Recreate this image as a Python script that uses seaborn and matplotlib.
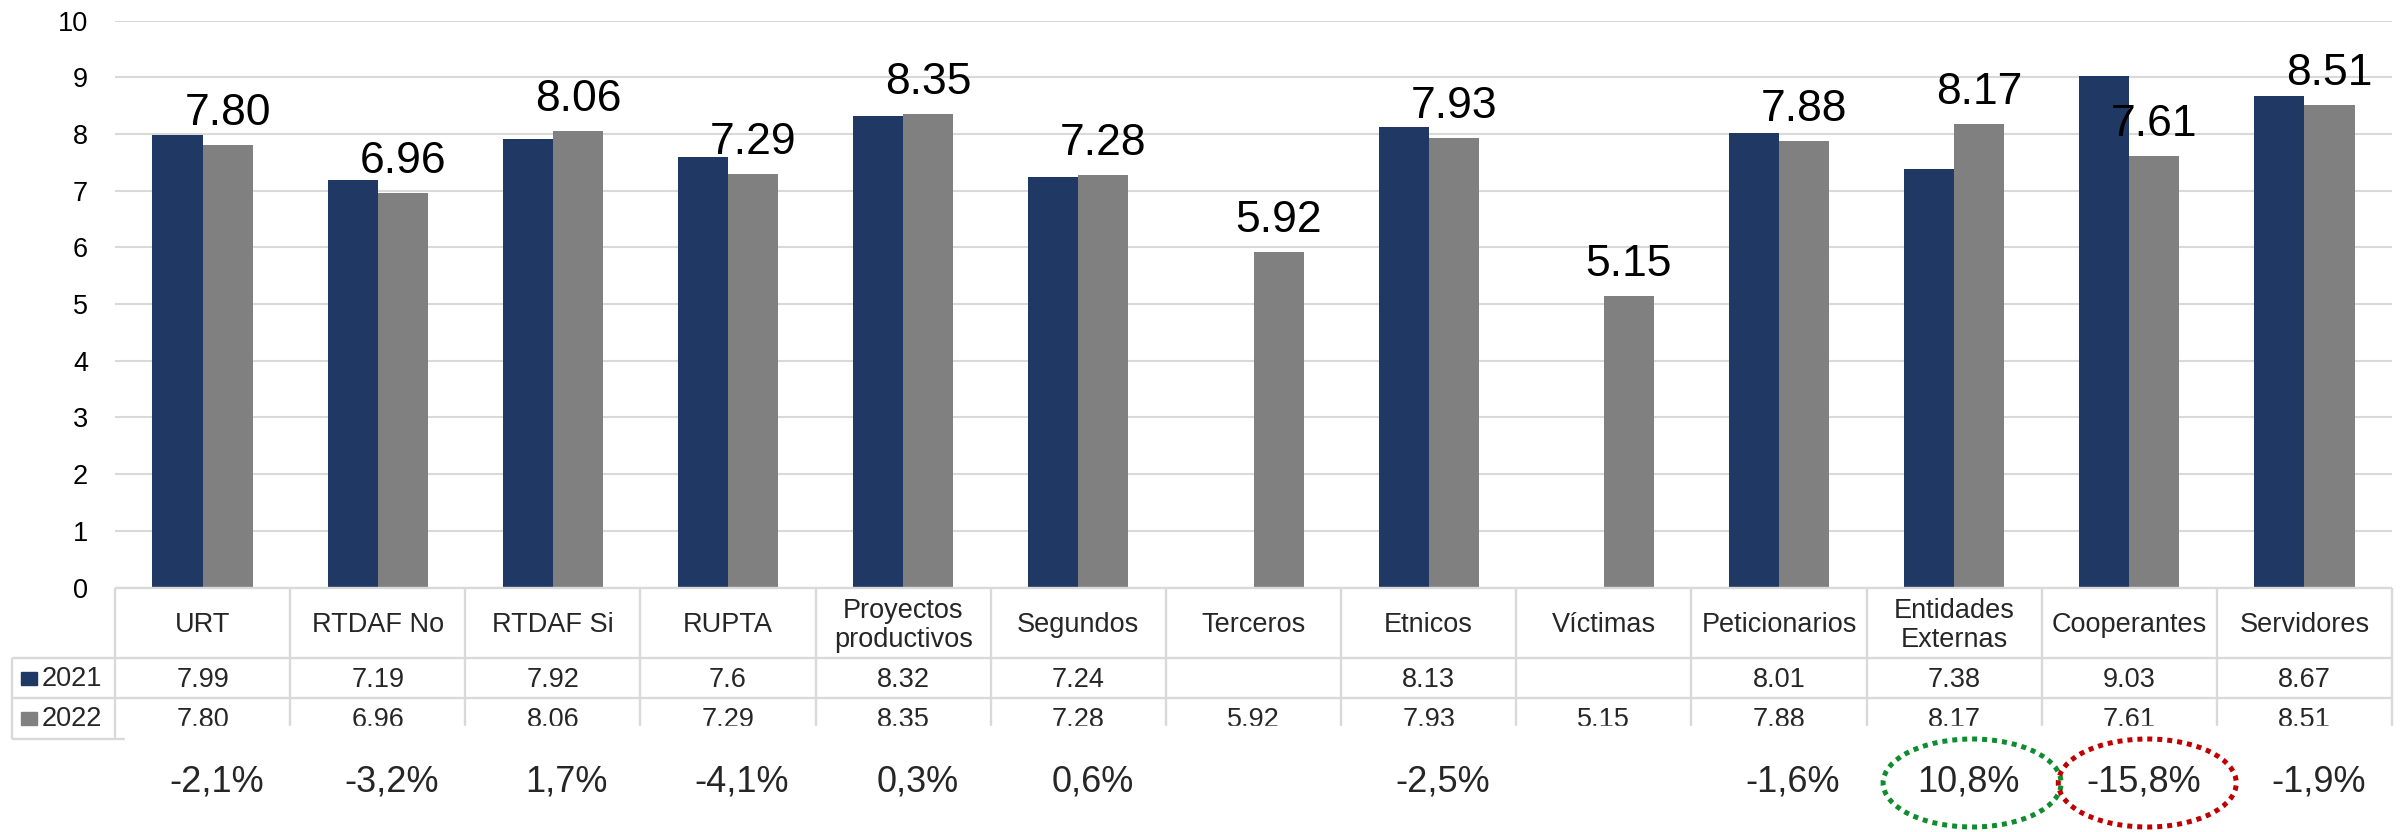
import numpy as np
import pandas as pd
import matplotlib
matplotlib.use("Agg")
import matplotlib.pyplot as plt
from matplotlib.patches import Ellipse, Rectangle
import seaborn as sns

# Data
categories = ["URT", "RTDAF No", "RTDAF Si", "RUPTA", "Proyectos\nproductivos", "Segundos",
              "Terceros", "Etnicos", "Víctimas", "Peticionarios", "Entidades\nExternas",
              "Cooperantes", "Servidores"]
years = ["2021", "2022"]
vals_2021 = [7.99, 7.19, 7.92, 7.6, 8.32, 7.24, np.nan, 8.13, np.nan, 8.01, 7.38, 9.03, 8.67]
vals_2022 = [7.80, 6.96, 8.06, 7.29, 8.35, 7.28, 5.92, 7.93, 5.15, 7.88, 8.17, 7.61, 8.51]
changes = ["-2,1%", "-3,2%", "1,7%", "-4,1%", "0,3%", "0,6%", "", "-2,5%", "", "-1,6%",
           "10,8%", "-15,8%", "-1,9%"]
circled = {"10,8%": "#0E8C2E", "-15,8%": "#C00000"}

colors = ["#203864", "#808080"]
line_col = "#D9D9D9"

sns.set_style("white")
plt.rcParams["font.family"] = ["Liberation Sans", "DejaVu Sans"]

W, H = 2402, 832
fig = plt.figure(figsize=(W / 100, H / 100), dpi=100)

# plot area in pixels
left, right = 115, 2392
base, top = 587.5, 20.7
cw = (right - left) / len(categories)

ax = fig.add_axes([left / W, (H - base) / H, (right - left) / W, (base - top) / H])

df = pd.DataFrame({
    "cat": categories * 2,
    "year": [years[0]] * len(categories) + [years[1]] * len(categories),
    "score": vals_2021 + vals_2022,
}).dropna()

sns.barplot(data=df, x="cat", y="score", hue="year", order=categories, hue_order=years,
            palette=colors, saturation=1, width=0.572, errorbar=None, legend=False,
            linewidth=0, ax=ax)

ax.set_xlim(-0.5, len(categories) - 0.5)
ax.set_ylim(0, 10)
ax.set_yticks(range(0, 11))
ax.set_xticks([])
ax.set_xlabel("")
ax.set_ylabel("")
ax.yaxis.grid(True, color=line_col, lw=1.5)
ax.set_axisbelow(True)
for s in ax.spines.values():
    s.set_visible(False)
ax.tick_params(axis="y", length=0, pad=19.4, labelsize=19.5, labelcolor="black")

# value labels over the 2022 bars
for p, v in zip(ax.containers[1], vals_2022):
    ax.annotate(f"{v:.2f}", (p.get_x() + p.get_width() / 2, p.get_height()),
                xytext=(0, 14.4), textcoords="offset points", ha="center", va="baseline",
                fontsize=32, color="black", annotation_clip=False)

# overlay in pixel units for the data table
ov = fig.add_axes([0, 0, 1, 1])
ov.set_xlim(0, W)
ov.set_ylim(H, 0)
ov.axis("off")

row_y = [587.5, 658, 698, 739]
clip_y = 726
kw = dict(color=line_col, lw=1.7, solid_capstyle="butt", zorder=2)
ov.plot([left, right], [row_y[0], row_y[0]], **kw)
ov.plot([12, right], [row_y[1], row_y[1]], **kw)
ov.plot([12, right], [row_y[2], row_y[2]], **kw)
ov.plot([12, 125], [row_y[3], row_y[3]], **kw)
ov.plot([12, 12], [row_y[1], row_y[3]], **kw)
ov.plot([left, left], [row_y[0], row_y[3]], **kw)
for i in range(1, len(categories) + 1):
    x = left + i * cw
    ov.plot([x, x], [row_y[0], clip_y], **kw)

t2021 = ["" if np.isnan(v) else f"{v:g}" for v in vals_2021]
t2022 = [f"{v:.2f}" for v in vals_2022]
for i, cat in enumerate(categories):
    cx = left + (i + 0.5) * cw
    cy = 647 if "\n" in cat else 632
    ov.text(cx, cy, cat, ha="center", va="baseline", fontsize=19.5,
            linespacing=1.15, zorder=2)
    ov.text(cx, 687, t2021[i], ha="center", va="baseline", fontsize=19.5, zorder=2)
    ov.text(cx, 727, t2022[i], ha="center", va="baseline", fontsize=19.5, zorder=2)

# legend keys in the table
for k, yr in enumerate(years):
    yc = (row_y[k + 1] + row_y[k + 2]) / 2
    ov.add_patch(Rectangle((21, yc - 6.5), 15.5, 13, color=colors[k], zorder=2))
    ov.text(42, 686 + 40 * k, yr, ha="left", va="baseline", fontsize=19.5, zorder=2)

# the change row covers the bottom of the table
ov.add_patch(Rectangle((125, clip_y), W - 125, H - clip_y, color="white", zorder=3))

for i, c in enumerate(changes):
    if not c:
        continue
    cx = left + (i + 0.5) * cw + 14
    ov.text(cx, 792, c, ha="center", va="baseline", fontsize=26, color="#262626", zorder=4)
    if c in circled:
        ov.add_patch(Ellipse((cx + 4, 783), 178, 88, fill=False, edgecolor=circled[c],
                             lw=3.6, linestyle=(0, (1, 1)), zorder=5))

fig.savefig("out.png", dpi=100)
